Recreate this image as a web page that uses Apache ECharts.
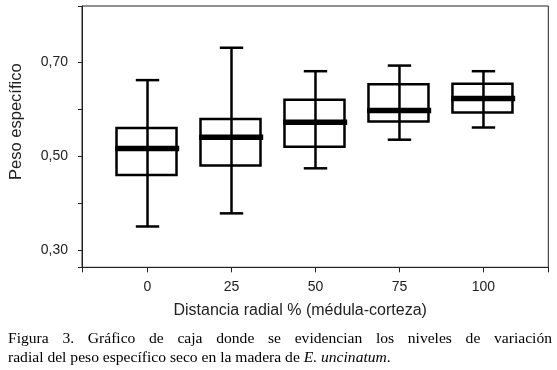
<!DOCTYPE html>
<html>
<head>
<meta charset="utf-8">
<script src="https://cdn.jsdelivr.net/npm/echarts@6/dist/echarts.min.js"></script>
<style>
  html, body { margin: 0; padding: 0; background: #fff; }
  #chart { width: 557px; height: 370px; }
</style>
</head>
<body>
<div id="chart"></div>
<script>
// posiciones radiales (%) y estadisticos de cada caja
const positions = [0, 25, 50, 75, 100]
const whiskerMin = [0.350, 0.378, 0.474, 0.535, 0.561]
const q1 = [0.460, 0.480, 0.520, 0.574, 0.593]
const median = [0.516, 0.540, 0.572, 0.597, 0.623]
const q3 = [0.560, 0.579, 0.620, 0.653, 0.654]
const whiskerMax = [0.662, 0.731, 0.681, 0.693, 0.681]

const xTickLabels = [0, 25, 50, 75, 100]
const yTickLabels = [0.3, 0.5, 0.7]
const yTicks = [0.3, 0.4, 0.5, 0.6, 0.7]

const X_MIN = -19.5, X_MAX = 119.3
const Y_MIN = 0.263, Y_MAX = 0.82

const caption1 = 'Figura 3. Gráfico de caja donde se evidencian los niveles de variación'
const caption2 = 'radial del peso específico seco en la madera de '
const caption2Italic = 'E. uncinatum'

const boxData = positions.map((p, i) => [p, whiskerMin[i], q1[i], median[i], q3[i], whiskerMax[i]])

const chart = echarts.init(document.getElementById('chart'))

const lineStyle = { stroke: '#000', lineWidth: 2.5, fill: null }

function renderBox(params, api) {
  const x = api.value(0)
  const pMin = api.coord([x, api.value(1)])
  const pQ1 = api.coord([x, api.value(2)])
  const pMed = api.coord([x, api.value(3)])
  const pQ3 = api.coord([x, api.value(4)])
  const pMax = api.coord([x, api.value(5)])
  const cx = pMin[0]
  const bx = cx - 1
  const half = 30
  const cap = 11.7
  return {
    type: 'group',
    children: [
      { type: 'line', shape: { x1: cx, y1: pMin[1], x2: cx, y2: pMax[1] }, style: lineStyle },
      { type: 'line', shape: { x1: cx - cap, y1: pMin[1], x2: cx + cap, y2: pMin[1] }, style: lineStyle },
      { type: 'line', shape: { x1: cx - cap, y1: pMax[1], x2: cx + cap, y2: pMax[1] }, style: lineStyle },
      { type: 'rect', shape: { x: bx - half, y: pQ3[1], width: half * 2, height: pQ1[1] - pQ3[1] }, style: lineStyle },
      { type: 'line', shape: { x1: bx - half - 1.3, y1: pMed[1], x2: bx + half + 2.7, y2: pMed[1] },
        style: { stroke: '#000', lineWidth: 5.5 } }
    ]
  }
}

// primera linea del pie justificada entre x=8 y x=552
const captionFont = '15.6px "Liberation Serif"'
const ctx = document.createElement('canvas').getContext('2d')
ctx.font = captionFont
const words = caption1.split(' ')
const widths = words.map(w => ctx.measureText(w).width)
const gap = (544 - widths.reduce((a, b) => a + b, 0)) / (words.length - 1)
const captionWords = []
let cursor = 8
words.forEach((w, i) => {
  captionWords.push({
    type: 'text', left: cursor, top: 331,
    style: { text: w, font: captionFont, fill: '#000' }
  })
  cursor += widths[i] + gap
})

const option = {
  animation: false,
  backgroundColor: '#fff',
  textStyle: { fontFamily: 'Liberation Sans' },
  grid: {
    left: 81, right: 8.7, top: 6, bottom: 102.7,
    show: true, borderColor: '#222', borderWidth: 1
  },
  xAxis: {
    type: 'value',
    min: X_MIN,
    max: X_MAX,
    name: 'Distancia radial % (médula-corteza)',
    nameLocation: 'middle',
    nameGap: 35,
    nameTextStyle: { fontSize: 16, color: '#222', fontFamily: 'Liberation Sans', padding: [0, 30, 0, 0] },
    axisLine: { onZero: false, lineStyle: { color: '#222', width: 1 } },
    axisTick: { length: 5, lineStyle: { color: '#222' }, customValues: [X_MIN].concat(xTickLabels, [X_MAX]) },
    axisLabel: { customValues: xTickLabels, fontSize: 14, color: '#222', margin: 13 },
    splitLine: { show: false }
  },
  yAxis: {
    type: 'value',
    min: Y_MIN,
    max: Y_MAX,
    name: 'Peso específico',
    nameLocation: 'middle',
    nameGap: 57,
    nameTextStyle: { fontSize: 16.5, color: '#222', fontFamily: 'Liberation Sans', padding: [0, 0, 0, 30] },
    axisLine: { onZero: false, lineStyle: { color: '#222', width: 1 } },
    axisTick: { length: 4, lineStyle: { color: '#222' }, customValues: [Y_MIN].concat(yTicks, [Y_MAX]) },
    axisLabel: {
      customValues: yTickLabels, fontSize: 14, color: '#222', margin: 14,
      formatter: v => v.toFixed(2).replace('.', ',')
    },
    splitLine: { show: false }
  },
  series: [{
    type: 'custom',
    renderItem: renderBox,
    data: boxData,
    encode: { x: 0, y: [1, 2, 3, 4, 5] }
  }],
  graphic: captionWords.concat([
    {
      type: 'text', left: 8, top: 350,
      style: {
        text: '{n|' + caption2 + '}{i|' + caption2Italic + '}{n|.}',
        fill: '#000',
        rich: {
          n: { fontFamily: 'Liberation Serif', fontSize: 15.6, color: '#000' },
          i: { fontFamily: 'Liberation Serif', fontSize: 15.6, fontStyle: 'italic', color: '#000' }
        }
      }
    }
  ])
}

chart.setOption(option)
</script>
</body>
</html>
